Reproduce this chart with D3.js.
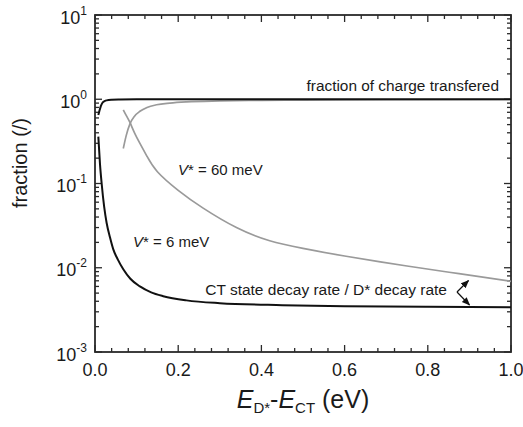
<!DOCTYPE html>
<html><head><meta charset="utf-8">
<script src="https://cdn.jsdelivr.net/npm/d3@7"></script>
<style>body{margin:0;background:#fff}text{font-family:"Liberation Sans",Arimo,Arial,sans-serif;fill:#1a1a1a}</style>
</head><body><svg id="c" width="523" height="427"></svg>
<script>
// Data (x = E_D* - E_CT in eV, y = fraction)
const xTicks = [0.0, 0.2, 0.4, 0.6, 0.8, 1.0];
const yExponents = [-3, -2, -1, 0, 1];
// V* = 6 meV, fraction of charge transferred
const frac6X = [0.008, 0.011, 0.014, 0.018, 0.023, 0.028, 0.04, 0.06, 0.1, 0.2, 0.5, 1.0];
const frac6Y = [0.65, 0.74, 0.83, 0.91, 0.95, 0.97, 0.985, 0.992, 0.997, 0.999, 1.0, 1.0];
// V* = 6 meV, CT decay rate / D* decay rate
const dec6X = [0.008, 0.012, 0.016, 0.022, 0.028, 0.036, 0.044, 0.055, 0.068, 0.085, 0.108, 0.135, 0.164, 0.22, 0.3, 0.45, 0.6, 0.8, 1.0];
const dec6Y = [0.36, 0.17, 0.10, 0.053, 0.034, 0.023, 0.0165, 0.0125, 0.0096, 0.0074, 0.006, 0.0051, 0.0046, 0.0041, 0.0038, 0.0036, 0.0035, 0.00345, 0.0034];
// V* = 60 meV, fraction of charge transferred
const frac60X = [0.068, 0.075, 0.084, 0.095, 0.108, 0.125, 0.148, 0.18, 0.22, 0.3, 0.4, 0.5, 0.7, 1.0];
const frac60Y = [0.26, 0.37, 0.51, 0.63, 0.72, 0.80, 0.86, 0.90, 0.93, 0.955, 0.97, 0.978, 0.987, 0.993];
// V* = 60 meV, CT decay rate / D* decay rate
const dec60X = [0.068, 0.076, 0.084, 0.095, 0.108, 0.125, 0.15, 0.2, 0.26, 0.34, 0.42, 0.5, 0.6, 0.75, 0.875, 1.0];
const dec60Y = [0.75, 0.63, 0.53, 0.40, 0.30, 0.21, 0.138, 0.083, 0.051, 0.030, 0.0209, 0.017, 0.0138, 0.0105, 0.0085, 0.0069];

const svg = d3.select("#c");
const L = 95, T = 15, W = 416, H = 337;
const x = d3.scaleLinear().domain([0, 1]).range([L, L + W]);
const y = d3.scaleLog().domain([1e-3, 1e1]).range([T + H, T]);
const axisColor = "#2a2a2a";

// minor/major ticks (inside, mirrored)
const xMinor = d3.range(0, 1.0001, 0.04).filter(v => Math.abs(v / 0.2 - Math.round(v / 0.2)) > 1e-6);
const yMinor = [];
yExponents.slice(0, -1).forEach(e => { for (let k = 2; k <= 9; k++) yMinor.push(k * Math.pow(10, e)); });
const g = svg.append("g").attr("stroke", axisColor).attr("stroke-width", 1.3);
xTicks.forEach(v => {
  g.append("line").attr("x1", x(v)).attr("x2", x(v)).attr("y1", T + H).attr("y2", T + H - 7);
  g.append("line").attr("x1", x(v)).attr("x2", x(v)).attr("y1", T).attr("y2", T + 7);
});
xMinor.forEach(v => {
  g.append("line").attr("x1", x(v)).attr("x2", x(v)).attr("y1", T + H).attr("y2", T + H - 4);
  g.append("line").attr("x1", x(v)).attr("x2", x(v)).attr("y1", T).attr("y2", T + 4);
});
yExponents.forEach(e => {
  const v = Math.pow(10, e);
  g.append("line").attr("x1", L).attr("x2", L + 7).attr("y1", y(v)).attr("y2", y(v));
  g.append("line").attr("x1", L + W).attr("x2", L + W - 7).attr("y1", y(v)).attr("y2", y(v));
});
yMinor.forEach(v => {
  g.append("line").attr("x1", L).attr("x2", L + 4).attr("y1", y(v)).attr("y2", y(v));
  g.append("line").attr("x1", L + W).attr("x2", L + W - 4).attr("y1", y(v)).attr("y2", y(v));
});
svg.append("rect").attr("x", L).attr("y", T).attr("width", W).attr("height", H)
  .attr("fill", "none").attr("stroke", axisColor).attr("stroke-width", 1.8);

// tick labels
xTicks.forEach(v => {
  svg.append("text").attr("x", x(v)).attr("y", T + H + 24).attr("text-anchor", "middle")
    .attr("font-size", 18).text(v.toFixed(1));
});
yExponents.forEach(e => {
  const t = svg.append("text").attr("x", 87).attr("y", y(Math.pow(10, e)) + 8.5)
    .attr("text-anchor", "end").attr("font-size", 18);
  t.append("tspan").text("10");
  t.append("tspan").attr("dy", -9).attr("font-size", 12).text(String(e));
});

// axis titles
const xt = svg.append("text").attr("x", L + W / 2).attr("y", 408).attr("text-anchor", "middle").attr("font-size", 25);
xt.append("tspan").attr("font-style", "italic").text("E");
xt.append("tspan").attr("font-size", 15).attr("dy", 5).text("D*");
xt.append("tspan").attr("dy", -5).text("-");
xt.append("tspan").attr("font-style", "italic").text("E");
xt.append("tspan").attr("font-size", 15).attr("dy", 5).text("CT");
xt.append("tspan").attr("dy", -5).text(" (eV)");
svg.append("text").attr("transform", "translate(27,163) rotate(-90)").attr("text-anchor", "middle")
  .attr("font-size", 20).text("fraction (/)");

// curves
const lineMono = d3.line().x(d => x(d[0])).y(d => y(d[1])).curve(d3.curveMonotoneX);
const lineNat = d3.line().x(d => x(d[0])).y(d => y(d[1])).curve(d3.curveNatural);
const draw = (xs, ys, color, w, gen) => svg.append("path").datum(xs.map((v, i) => [v, ys[i]]))
  .attr("d", gen).attr("fill", "none").attr("stroke", color).attr("stroke-width", w);
draw(frac60X, frac60Y, "#9a9a9a", 1.7, lineMono);
draw(dec60X, dec60Y, "#9a9a9a", 1.7, lineNat);
draw(frac6X, frac6Y, "#111", 2, lineMono);
draw(dec6X, dec6Y, "#111", 2, lineMono);

// annotations
svg.append("text").attr("x", 499).attr("y", 91).attr("text-anchor", "end").attr("font-size", 15.4)
  .text("fraction of charge transfered");
const a1 = svg.append("text").attr("x", 178).attr("y", 175).attr("font-size", 15);
a1.append("tspan").attr("font-style", "italic").text("V");
a1.append("tspan").text("* = 60 meV");
const a2 = svg.append("text").attr("x", 133).attr("y", 247).attr("font-size", 15);
a2.append("tspan").attr("font-style", "italic").text("V");
a2.append("tspan").text("* = 6 meV");
svg.append("text").attr("x", 447).attr("y", 295).attr("text-anchor", "end").attr("font-size", 15.5)
  .text("CT state decay rate / D* decay rate");

// arrows
const defs = svg.append("defs");
defs.append("marker").attr("id", "ah").attr("viewBox", "0 0 10 10").attr("refX", 9).attr("refY", 5)
  .attr("markerWidth", 7).attr("markerHeight", 7).attr("orient", "auto")
  .append("path").attr("d", "M0,1 L10,5 L0,9 Z").attr("fill", "#111");
[[468.5, 280.5], [469.5, 305]].forEach(p => {
  svg.append("line").attr("x1", 457).attr("y1", 292).attr("x2", p[0]).attr("y2", p[1])
    .attr("stroke", "#111").attr("stroke-width", 1.2).attr("marker-end", "url(#ah)");
});
</script></body></html>
